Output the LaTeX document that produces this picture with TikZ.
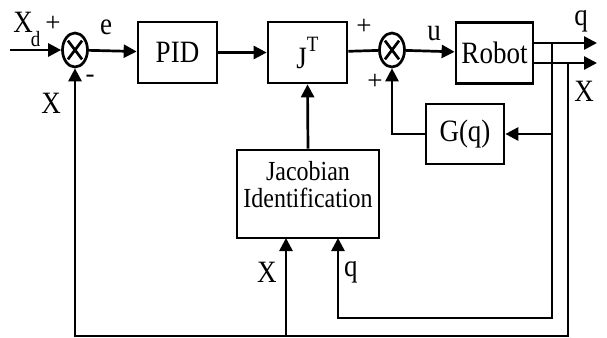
\documentclass[tikz,border=0pt]{standalone}
\usepackage{fontspec}
\setmainfont{Liberation Serif}
\usetikzlibrary{shapes.geometric, calc, arrows.meta}
\newcommand{\tallt}[1]{\scalebox{1}[1.15]{#1}}

\begin{document}
\begin{tikzpicture}[x=0.5pt, y=-0.5pt, line width=1.35pt, >={Triangle[length=6.5pt,width=6.5pt]},
    block/.style = {draw, rectangle, minimum width=39.5pt, minimum height=30.5pt, inner sep=0pt, font=\fontsize{13.5}{16}\selectfont},
    summ/.style = {draw, ellipse, minimum width=12.5pt, minimum height=17pt, inner sep=0pt},
    lbl/.style = {inner sep=0pt, font=\fontsize{13.5}{16}\selectfont}]
    \useasboundingbox (0,0) rectangle (607,338);
    % Nodes
    \node[summ] (S1) at (75,50) {};
    \node[block] (PID) at (177.5,52.5) {\tallt{PID}};
    \node[block] (JT) at (307.5,52.5) {\tallt{J}\raisebox{8.5pt}{\fontsize{9.5}{10}\selectfont\tallt{T}}};
    \node[summ] (S2) at (392,50) {};
    \node[block, minimum width=38.5pt] (Robot) at (494.5,53) {\tallt{Robot}};
    \node[block, minimum width=39pt, minimum height=30pt] (Gq) at (465,134) {\tallt{G(q)}};
    \node[block, minimum width=71pt, minimum height=44pt] (Jac) at (308,194) {};
    \node[lbl, align=center, font=\fontsize{12}{13.5}\selectfont] (JacText) at (308,185) {\tallt{Jacobian}\\\tallt{Identification}};

    % Points
    \coordinate (Xin) at (10,50);
    \coordinate (qOut) at (597,43);
    \coordinate (XOut) at (597,63);
    \coordinate (qTap) at (552,43);
    \coordinate (XTap) at (568,63);
    \coordinate (qLow) at (552,318);
    \coordinate (XLow) at (568,336);
    \coordinate (JacX) at (286,238);
    \coordinate (JacQ) at (338,238);

    % Crosses
    \foreach \s in {S1,S2}
        \draw ($(\s.center)!0.72!(\s.north west)$) -- ($(\s.center)!0.72!(\s.south east)$)
              ($(\s.center)!0.72!(\s.north east)$) -- ($(\s.center)!0.72!(\s.south west)$);

    % Lines
    \draw[->] (Xin) -- (S1);
    \draw[->] (S1) -- (PID);
    \draw[->] (PID) -- (JT);
    \draw (JT) -- (S2);
    \draw[->] (S2) -- (Robot);
    \draw[->] (Robot.east |- qOut) -- (qOut);
    \draw[->] (Robot.east |- XOut) -- (XOut);
    \draw[->] (qTap) -- (qLow) -| (JacQ);
    \draw[->] (qTap |- Gq.east) -- (Gq.east);
    \draw[->] (Gq.west) -| (S2.south);
    \draw[->] (XTap) -- (XLow) -| (S1.south);
    \draw[->] (XLow -| JacX) -- (JacX);
    \draw[->] (Jac.north) -- (JT.south);

    % Labels
    \node[lbl, anchor=base west] (XdLabel) at (12,32) {\tallt{X}\hspace{-1pt}\raisebox{-7pt}{\fontsize{9.5}{10}\selectfont\tallt{d}}};
    \node[lbl] (PlusA) at (53,24) {+};
    \node[lbl] (MinusA) at (90,79) {-};
    \node[lbl] (XFb) at (51,103) {\tallt{X}};
    \node[lbl] (eLabel) at (106,27) {\tallt{e}};
    \node[lbl] (PlusB) at (364,27) {+};
    \node[lbl] (PlusC) at (375,82) {+};
    \node[lbl] (uLabel) at (434,34) {\tallt{u}};
    \node[lbl] (qLabel) at (581,21) {\tallt{q}};
    \node[lbl] (XLabel) at (584,91) {\tallt{X}};
    \node[lbl] (XJac) at (267,272) {\tallt{X}};
    \node[lbl] (qJac) at (351,272) {\tallt{q}};
\end{tikzpicture}
\end{document}
